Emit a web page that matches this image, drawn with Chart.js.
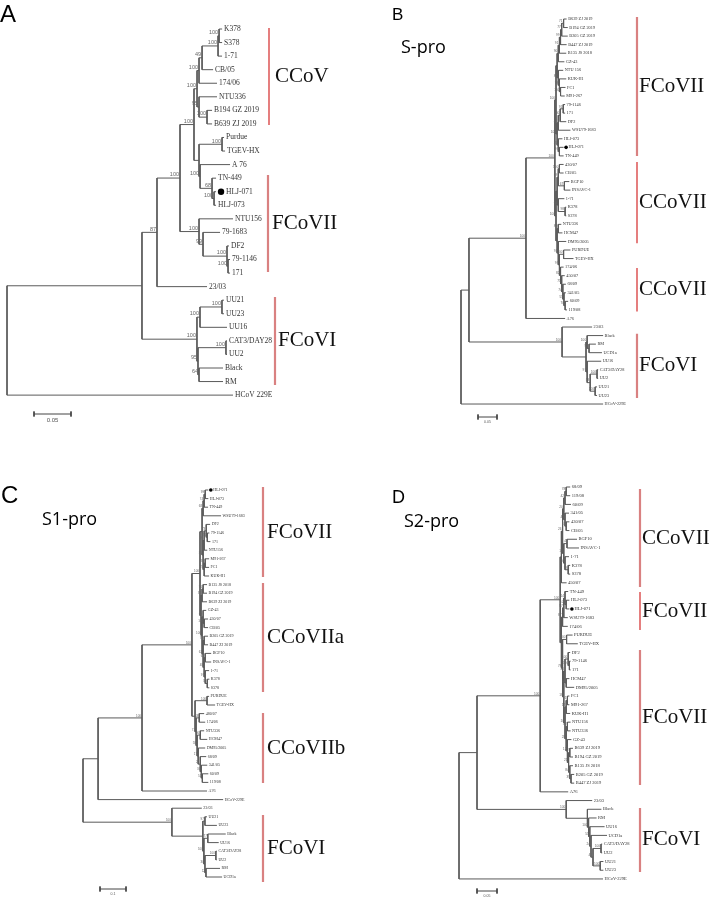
<!DOCTYPE html>
<html>
<head>
<meta charset="utf-8">
<script src="https://cdn.jsdelivr.net/npm/chart.js@4"></script>
<style>
  body { margin: 0; background: #fff; }
  #wrap { position: relative; width: 712px; height: 900px; }
  canvas { position: absolute; }
</style>
</head>
<body>
<div id="wrap">
  <canvas id="chartA" width="356" height="450" style="left:0;top:0"></canvas>
  <canvas id="chartB" width="356" height="450" style="left:356px;top:0"></canvas>
  <canvas id="chartC" width="356" height="450" style="left:0;top:450px"></canvas>
  <canvas id="chartD" width="356" height="450" style="left:356px;top:450px"></canvas>
</div>
<script>
// Trees in Newick form: branch length after ':', bootstrap value after ')'
const treeA = '((((((((((K378:0.0041,S378:0.0041)100:0.0014,1-71:0.0054)100:0.0216,CB/05:0.0149)49:0.0041,174/06:0.0243)100:0.0027,(NTU336:0.0243,(B194 GZ 2019:0.0068,B639 ZJ 2019:0.0068)100:0.0108)95:0.0027)100:0.0041,((Purdue:0.0027,TGEV-HX:0.0041)100:0.0311,(A 76:0.0405,(TN-449:0.0054,(HLJ-071:0.0027,HLJ-073:0.0027)100:0.0027)68:0.0162)100:0.0014):0.0068)100:0.0189,(NTU156:0.0459,(79-1683:0.0230,(DF2:0.0027,(79-1146:0.0027,171:0.0027)100:0.0014)100:0.0324)99:0.0054)100:0.0257)100:0.0311,23/03:0.0676)87:0.0203,(((UU21:0.0027,UU23:0.0027)100:0.0297,UU16:0.0365)100:0.0041,((CAT3/DAY28:0.0014,UU2:0.0014)100:0.0378,(Black:0.0324,RM:0.0324)64:0.0014)95:0.0014)100:0.0743):0.1824,HCoV 229E:0.3054);';

const bFcov2a = '(((((B639 ZJ 2019:0.008,B194 GZ 2019:0.011)71:0.005,B205 GZ 2019:0.016)77:0.003,B447 ZJ 2019:0.016)99:0.003,B135 JS 2018:0.018)91:0.003,GZ-43:0.016)90';
const bFcov2b = '(NTU 156:0.013,(KUK-H1:0.018,(FC1:0.013,M91-267:0.011)100:0.003)98:0.003)88';
const bFcov2c = '(((79-1146:0.005,171:0.005)91:0.008,DF2:0.016)100:0.005,WSU79-1683:0.032)47';
const bFcov2d = '(HLJ-073:0.011,(HLJ-071:0.011,TN-449:0.011)97:0.003)85';
const bCcov2a = '(((430/07:0.011,CB/05:0.011)100:0.003,(BGF10:0.013,INSAVC-1:0.016)67:0.016)59:0.003,(1-71:0.016,(K378:0.003,S378:0.003)98:0.018)63:0.003)';
const bCcov2b = '((NTU336:0.008,HCM47:0.011)89:0.003,(DM95/2005:0.021,((PURDUE:0.018,TGEV-HX:0.026)100:0.011,(174/06:0.008,(450/07:0.008,(68/09:0.008,(341/05:0.005,(60/09:0.008,119/08:0.005)70:0.003)55:0.003)74:0.003)71:0.003)82:0.003)99:0.003)91:0.003)';
const bFcov1 = '((Black:0.042,(RM:0.018,UCD1a:0.034)93:0.005)100:0.003,(UU16:0.037,((CAT3/DAY28:0.003,UU2:0.003)100:0.018,(UU21:0.005,UU23:0.005)100:0.013)53:0.008)97:0.003)';
const treeB = '((((((' + bFcov2a + ':0.003,' + bFcov2b + ':0.003):0.003,(' + bFcov2c + ':0.003,' + bFcov2d + ':0.003)100:0.003)100:0.003,(' +
  bCcov2a + ':0.003,' + bCcov2b + ':0.003)100:0.003)100:0.076,A76:0.103)100:0.150,(23/03:0.079,' + bFcov1 + ':0.063)100:0.245):0.021,HCoV-229E:0.374);';

const cFcov2 = '((((HLJ-071:0.012,HLJ-073:0.012)99:0.004,TN-449:0.015)74:0.004,WSU79-1683:0.069)68:0.004,(((DF2:0.015,(79-1146:0.008,171:0.012)51:0.004)73:0.008,NTU156:0.012)96:0.004,((M91-267:0.015,FC1:0.015)30:0.004,KUK-H1:0.019)25:0.004)85:0.004)';
const cCcov2a = '(((B135 JS 2018:0.015,B194 GZ 2019:0.015)96:0.004,B639 ZJ 2019:0.019)37:0.004,((GZ-43:0.012,(430/07:0.015,CB/05:0.015)100:0.004)97:0.004,((B205 GZ 2019:0.015,B447 ZJ 2019:0.015)75:0.004,((BGF10:0.023,INSAVC-1:0.023)63:0.004,(1-71:0.015,(K378:0.008,S378:0.008)38:0.008)97:0.004)48:0.004)62:0.004)100:0.004)';
const cCcov2b = '((PURDUE:0.008,TGEV-HX:0.031)100:0.046,((480/07:0.019,174/06:0.023)63:0.012,((NTU336:0.015,HCM47:0.027)90:0.012,(DM95/2005:0.027,(68/09:0.023,(341/05:0.023,(60/09:0.023,119/08:0.023)51:0.004)36:0.004)28:0.008)17:0.004)58:0.004)71:0.004)';
const cFcov1 = '((UU21:0.008,UU23:0.046)97:0.008,((Black:0.069,UU16:0.042)77:0.015,((CAT3/DAY28:0.004,UU2:0.004)100:0.042,(RM:0.054,UCD1a:0.062)12:0.004)30:0.004)100:0.004)';
const treeC = '((((' + '(' + cFcov2 + ':0.008,' + cCcov2a + ':0.004)100:0.031,' + cCcov2b + ':0.012)100:0.192,A76:0.25)100:0.169,HCoV-229E:0.481):0.058,(23/03:0.115,' + cFcov1 + ':0.119)100:0.342);';

const dCcov2 = '(((((68/09:0.01,119/08:0.01)78:0.003,60/09:0.015)42:0.003,(341/05:0.01,(430/07:0.008,CB/05:0.008)18:0.003)41:0.003)20:0.003,((BGF10:0.025,INSAVC-1:0.03)4:0.008,(1-71:0.01,(K378:0.005,S378:0.005)99:0.008)90:0.003)13:0.003)26:0.003,450/07:0.013)';
const dFcov2 = '((((TN-449:0.008,(HLJ-073:0.008,HLJ-071:0.008)100:0.003)14:0.003,WSU79-1683:0.01)97:0.003,174/06:0.013)87:0.003,((PURDUE:0.015,TGEV-HX:0.028)100:0.01,(((DF2:0.005,(79-1146:0.003,171:0.003)100:0.003)100:0.008,(HCM47:0.008,DM95/2005:0.02)11:0.003)40:0.003,(((FC1:0.005,M91-267:0.005)91:0.003,KUK-H1:0.01)17:0.003,((NTU156:0.008,NTU336:0.008)32:0.003,(GZ-43:0.01,((B639 ZJ 2019:0.008,B194 GZ 2019:0.008)42:0.003,(B135 JS 2018:0.008,(B205 GZ 2019:0.008,B447 ZJ 2019:0.008)39:0.003)84:0.003)21:0.003)12:0.003)28:0.003)10:0.003)18:0.003)78:0.003)';
const dFcov1 = '(Black:0.035,(RM:0.02,(UU16:0.037,(UCD1a:0.04,((CAT3/DAY28:0.003,UU2:0.003)100:0.02,(UU21:0.008,UU23:0.008)100:0.018)43:0.005)24:0.003)51:0.003)100:0.003)';
const treeD = '((((' + dCcov2 + ':0.003,' + dFcov2 + ':0.003)100:0.05,A76:0.07)100:0.158,(23/03:0.065,' + dFcov1 + ':0.053)100:0.223):0.045,HCoV-229E:0.36);';

// clade brackets, as leaf-row spans
const cladeNamesA = ['CCoV', 'FCoVII', 'FCoVI'];
const cladeFromA = [-0.07, 10.77, 19.76];
const cladeToA = [7.08, 17.92, 26.25];
const cladeNamesB = ['FCoVII', 'CCoVII', 'CCoVII', 'FCoVI'];
const cladeFromB = [-0.23, 16.7, 29.1, 36.8];
const cladeToB = [16.0, 26.2, 34.2, 44.3];
const cladeNamesC = ['FCoVII', 'CCoVIIa', 'CCoVIIb', 'FCoVI'];
const cladeFromC = [-0.35, 10.81, 25.93, 37.79];
const cladeToC = [10.12, 23.49, 34.07, 45.58];
const cladeNamesD = ['CCoVII', 'FCoVII', 'FCoVII', 'FCoVI'];
const cladeFromD = [0.23, 12.06, 18.71, 36.85];
const cladeToD = [11.48, 16.42, 34.21, 44.2];

const scaleLengths = [0.05, 0.05, 0.1, 0.05];
const scaleLabels = ['0.05', '0.05', '0.1', '0.05'];
const markedLeaves = ['HLJ-071'];

const barStyles = {
  red: { color: '#d42a2a', width: 1.2 },
  pink: { color: '#d98181', width: 2.2 }
};

const panels = [
  { id: 'chartA', tree: treeA, names: cladeNamesA, from: cladeFromA, to: cladeToA,
    styles: ['red', 'pink', 'pink'], barX: [269, 268, 275], labelX: [275, 272, 278],
    rootPx: 7, ppu: 740, firstPx: 29, step: 13.56,
    leafFont: 7.5, bootFont: 5.5, gap: 2, dot: [3.2, 5, 10],
    letter: 'A', letterFont: '24px "Liberation Sans"', letterXY: [0, 22],
    sub: null, scaleXY: [34, 414], scaleFont: 6 },
  { id: 'chartB', tree: treeB, names: cladeNamesB, from: cladeFromB, to: cladeToB,
    styles: ['pink', 'red', 'red', 'pink'], barX: [281, 281, 281, 281], labelX: [283, 283, 283, 283],
    rootPx: 105, ppu: 380, firstPx: 19, step: 8.556,
    leafFont: 4.3, bootFont: 3.2, gap: 1.5, dot: [1.8, 2.5, 5],
    letter: 'B', letterFont: '17px "Liberation Sans"', letterXY: [36, 20],
    sub: 'S-pro', subXY: [45, 48], scaleXY: [122, 417], scaleFont: 3.5 },
  { id: 'chartC', tree: treeC, names: cladeNamesC, from: cladeFromC, to: cladeToC,
    styles: ['pink', 'pink', 'pink', 'pink'], barX: [263, 263, 263, 263], labelX: [267, 267, 267, 267],
    rootPx: 83, ppu: 260, firstPx: 40, step: 8.6,
    leafFont: 4, bootFont: 3, gap: 1.5, dot: [1.8, 2.5, 5],
    letter: 'C', letterFont: '24px "Liberation Sans"', letterXY: [1, 53],
    sub: 'S1-pro', subXY: [42, 70], scaleXY: [100, 439], scaleFont: 3.5 },
  { id: 'chartD', tree: treeD, names: cladeNamesD, from: cladeFromD, to: cladeToD,
    styles: ['pink', 'red', 'pink', 'pink'], barX: [284, 284, 284, 284], labelX: [286, 286, 286, 286],
    rootPx: 103, ppu: 400, firstPx: 37, step: 8.71,
    leafFont: 4.5, bootFont: 3.2, gap: 1.5, dot: [1.8, 2.5, 5],
    letter: 'D', letterFont: '18px "Liberation Sans"', letterXY: [36, 53],
    sub: 'S2-pro', subXY: [48, 72], scaleXY: [121, 441], scaleFont: 3.5 }
];

function parseNewick(src) {
  const s = src.replace(/\s*([(),:;])\s*/g, '$1');
  let i = 0;
  const readText = () => {
    let t = '';
    while (i < s.length && !'(),:;'.includes(s[i])) t += s[i++];
    return t.trim();
  };
  const node = () => {
    const n = { children: [], name: '', label: '', len: 0 };
    if (s[i] === '(') {
      i++;
      n.children.push(node());
      while (s[i] === ',') { i++; n.children.push(node()); }
      i++;
      n.label = readText();
    } else {
      n.name = readText();
    }
    if (s[i] === ':') { i++; n.len = parseFloat(readText()); }
    return n;
  };
  return node();
}

function drawPanel(p, k) {
  const canvas = document.getElementById(p.id);
  const W = canvas.width, H = canvas.height;
  const root = parseNewick(p.tree);
  const nodes = [];
  let row = 0;
  (function place(n, px) {
    n.x = px + n.len;
    nodes.push(n);
    if (!n.children.length) { n.y = row++; return; }
    n.children.forEach(c => place(c, n.x));
    n.y = (n.children[0].y + n.children[n.children.length - 1].y) / 2;
  })(root, 0);

  // tree branches, segments split by null points
  const branches = [];
  const seg = (x1, y1, x2, y2) => branches.push({ x: x1, y: y1 }, { x: x2, y: y2 }, { x: x2, y: null });
  nodes.forEach(n => {
    if (!n.children.length) return;
    n.children.forEach(c => seg(n.x, c.y, c.x, c.y));
    seg(n.x, n.children[0].y, n.x, n.children[n.children.length - 1].y);
  });

  const toX = px => (px - p.rootPx) / p.ppu;
  const toY = py => (py - p.firstPx) / p.step;

  const datasets = [{
    data: branches, borderColor: '#5a5a5a', borderWidth: 1
  }];
  p.names.forEach((name, j) => {
    const st = barStyles[p.styles[j]];
    datasets.push({
      data: [{ x: toX(p.barX[j]), y: p.from[j] }, { x: toX(p.barX[j]), y: p.to[j] }],
      borderColor: st.color, borderWidth: st.width
    });
  });

  // scale bar
  const sx = toX(p.scaleXY[0]), sy = toY(p.scaleXY[1]), tick = 2.5 / p.step;
  const sLen = scaleLengths[k];
  datasets.push({
    data: [
      { x: sx, y: sy - tick }, { x: sx, y: sy + tick }, { x: sx, y: null },
      { x: sx, y: sy }, { x: sx + sLen, y: sy }, { x: sx + sLen, y: null },
      { x: sx + sLen, y: sy - tick }, { x: sx + sLen, y: sy + tick }
    ],
    borderColor: '#444', borderWidth: 1
  });

  datasets.forEach(d => Object.assign(d, {
    showLine: true, pointRadius: 0, spanGaps: false, fill: false, tension: 0, borderCapStyle: 'butt'
  }));

  const treeText = {
    id: 'treeText' + k,
    afterDatasetsDraw(chart) {
      const ctx = chart.ctx, xs = chart.scales.x, ys = chart.scales.y;
      ctx.save();
      // leaf names
      ctx.textAlign = 'left';
      ctx.textBaseline = 'middle';
      ctx.font = p.leafFont + 'px "Liberation Serif"';
      nodes.filter(n => !n.children.length).forEach(n => {
        const px = xs.getPixelForValue(n.x), py = ys.getPixelForValue(n.y);
        ctx.fillStyle = '#333';
        if (markedLeaves.includes(n.name)) {
          ctx.fillStyle = '#000';
          ctx.beginPath();
          ctx.arc(px + p.dot[1], py, p.dot[0], 0, Math.PI * 2);
          ctx.fill();
          ctx.fillStyle = '#333';
          ctx.fillText(n.name, px + p.dot[2], py);
        } else {
          ctx.fillText(n.name, px + p.gap, py);
        }
      });
      // bootstrap values
      ctx.textAlign = 'right';
      ctx.textBaseline = 'bottom';
      ctx.font = p.bootFont + 'px "Liberation Sans"';
      ctx.fillStyle = '#666';
      nodes.filter(n => n.children.length && n.label).forEach(n => {
        ctx.fillText(n.label, xs.getPixelForValue(n.x) - 1, ys.getPixelForValue(n.y) - 0.5);
      });
      // clade names
      ctx.textAlign = 'left';
      ctx.textBaseline = 'middle';
      ctx.font = '21px "Liberation Serif"';
      ctx.fillStyle = '#111';
      p.names.forEach((name, j) => {
        ctx.fillText(name, p.labelX[j], ys.getPixelForValue((p.from[j] + p.to[j]) / 2));
      });
      // scale label
      ctx.textAlign = 'center';
      ctx.textBaseline = 'top';
      ctx.font = p.scaleFont + 'px "Liberation Sans"';
      ctx.fillStyle = '#555';
      ctx.fillText(scaleLabels[k], xs.getPixelForValue(sx + sLen / 2), ys.getPixelForValue(sy) + 3);
      // panel letter and subtitle
      ctx.textAlign = 'left';
      ctx.textBaseline = 'alphabetic';
      ctx.font = p.letterFont;
      ctx.fillStyle = '#000';
      ctx.fillText(p.letter, p.letterXY[0], p.letterXY[1]);
      if (p.sub) {
        ctx.textBaseline = 'middle';
        ctx.font = '18px "Open Sans"';
        ctx.fillText(p.sub, p.subXY[0], p.subXY[1]);
      }
      ctx.restore();
    }
  };

  new Chart(canvas.getContext('2d'), {
    type: 'scatter',
    data: { datasets },
    options: {
      responsive: false,
      animation: false,
      devicePixelRatio: 1,
      events: [],
      layout: { padding: 0 },
      plugins: { legend: { display: false }, tooltip: { enabled: false } },
      scales: {
        x: { type: 'linear', display: false, min: toX(0), max: toX(W) },
        y: { type: 'linear', display: false, reverse: true, min: toY(0), max: toY(H) }
      }
    },
    plugins: [treeText]
  });
}

panels.forEach(drawPanel);
</script>
</body>
</html>
